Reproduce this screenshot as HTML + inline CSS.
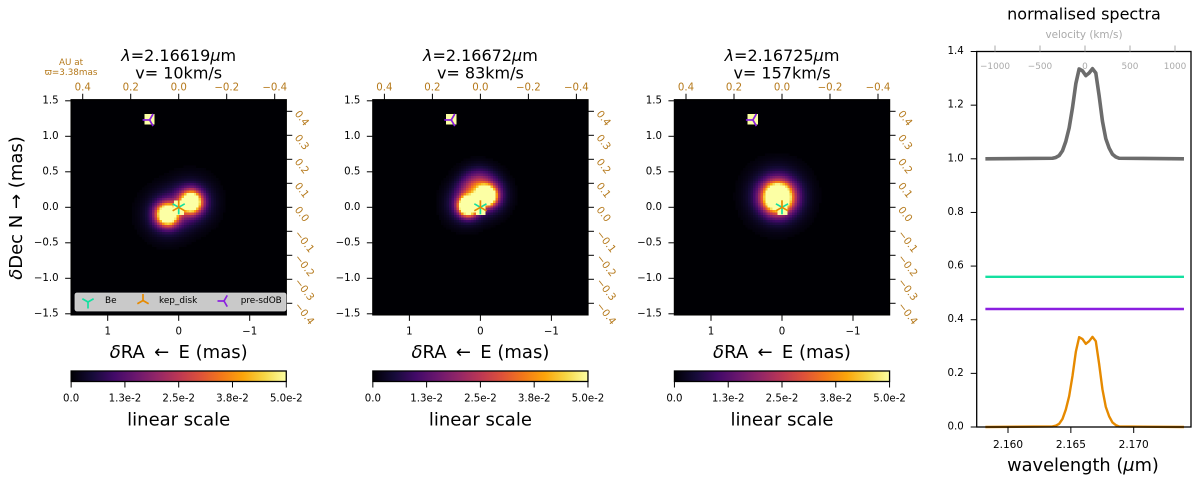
<!DOCTYPE html>
<html lang="en">
<head>
<meta charset="utf-8">
<title>Normalised spectra and image channels</title>
<style>
html,body{margin:0;padding:0;background:#fff;width:1200px;height:484px;overflow:hidden}
svg{display:block;font-family:"DejaVu Sans","Liberation Sans",sans-serif}
</style>
</head>
<body>
<svg id="fig" xmlns="http://www.w3.org/2000/svg" width="1200" height="484" viewBox="0 0 1200 484"></svg>
<script>
// ---- image panels ----
const panelTitles = ["2.16619", "2.16672", "2.16725"];
const panelVelocities = [" 10", " 83", " 157"];
// emission components per panel: x (mas, east positive), y (mas), peak, sigma (mas)
const blobsPanel1 = [[0.165, -0.095, 0.078, 0.098], [-0.169, 0.08, 0.078, 0.098], [0.165, -0.095, 0.013, 0.2], [-0.169, 0.08, 0.013, 0.2]];
const blobsPanel2 = [[0.18, 0.025, 0.1, 0.082], [-0.086, 0.166, 0.094, 0.08], [0.2, 0.05, 0.016, 0.17], [0.03, 0.27, 0.03, 0.16], [-0.13, 0.16, 0.012, 0.16]];
const blobsPanel3 = [[0.065, 0.145, 0.09, 0.13], [0.065, 0.16, 0.02, 0.23]];
const panelBlobs = [blobsPanel1, blobsPanel2, blobsPanel3];
// unresolved point sources: x, y, half width, half height (mas)
const pointSources = [[0.0, 0.0, 0.078, 0.1], [0.42, 1.24, 0.063, 0.06]];
const starPositions = [[0.0, 0.0], [0.41, 1.23]];
const xTicks = [1, 0, -1];
const yTicks = [1.5, 1.0, 0.5, 0.0, -0.5, -1.0, -1.5];
const auTopTicks = [0.4, 0.2, 0.0, -0.2, -0.4];
const auRightTicks = [0.4, 0.3, 0.2, 0.1, 0.0, -0.1, -0.2, -0.3, -0.4];
const colorbarTicks = [0, 0.0125, 0.025, 0.0375, 0.05];
const colorbarLabels = ["0.0", "1.3e-2", "2.5e-2", "3.8e-2", "5.0e-2"];
const infernoStops = ["#000004", "#160b39", "#420a68", "#6a176e", "#932667", "#bc3754", "#dd513a", "#f37819", "#fca50a", "#f6d746", "#fcffa4"];
const legendLabels = ["Be", "kep_disk", "pre-sdOB"];

// ---- spectra ----
const wavelengths = [2.1582, 2.16354, 2.163805, 2.16407, 2.164335, 2.1646, 2.164865, 2.16513, 2.165395, 2.16566, 2.165925, 2.16619, 2.166455, 2.16672, 2.166985, 2.16725, 2.167515, 2.16778, 2.168045, 2.16831, 2.168575, 2.16884, 2.174];
const fluxTotal = [1.0, 1.002, 1.005, 1.012, 1.03, 1.065, 1.115, 1.19, 1.28, 1.335, 1.328, 1.31, 1.32, 1.336, 1.32, 1.235, 1.14, 1.075, 1.04, 1.017, 1.007, 1.002, 1.0];
const fluxDisk = [0.0, 0.002, 0.005, 0.012, 0.03, 0.065, 0.115, 0.19, 0.28, 0.335, 0.328, 0.31, 0.32, 0.336, 0.32, 0.235, 0.14, 0.075, 0.04, 0.017, 0.007, 0.002, 0.0];
const fluxBe = [0.56, 0.56, 0.56, 0.56, 0.56, 0.56, 0.56, 0.56, 0.56, 0.56, 0.56, 0.56, 0.56, 0.56, 0.56, 0.56, 0.56, 0.56, 0.56, 0.56, 0.56, 0.56, 0.56];
const fluxSdOB = [0.44, 0.44, 0.44, 0.44, 0.44, 0.44, 0.44, 0.44, 0.44, 0.44, 0.44, 0.44, 0.44, 0.44, 0.44, 0.44, 0.44, 0.44, 0.44, 0.44, 0.44, 0.44, 0.44];
const specYTicks = [0, 0.2, 0.4, 0.6, 0.8, 1.0, 1.2, 1.4];
const specXTicks = [2.16, 2.165, 2.17];
const velocityTicks = [-1000, -500, 0, 500, 1000];

const fig = document.getElementById('fig');
const NS = 'http://www.w3.org/2000/svg';
const BROWN = '#b5791b';
const GREEN = '#14e0a0', ORANGE = '#e68a00', PURPLE = '#8a1fe0', GREY = '#6c6c6c';
const TICK_FONT = 10.2;

function mk(parent, tag, attrs, name, text) {
  const el = document.createElementNS(NS, tag);
  for (const k in attrs) el.setAttribute(k, attrs[k]);
  
  
  if (text !== undefined) el.textContent = text;
  parent.appendChild(el);
  return el;
}
function group(name) { return mk(fig, 'g', {}, name); }
function line(p, x1, y1, x2, y2, c, w, name) {
  return mk(p, 'line', {x1, y1, x2, y2, stroke: c, 'stroke-width': w}, name);
}
function label(p, x, y, s, size, fill, anchor, name, extra) {
  const a = Object.assign({x, y, 'font-size': size, fill, 'text-anchor': anchor, 'dominant-baseline': 'central'}, extra || {});
  return mk(p, 'text', a, name, s);
}
function fmt(v, d) { return (v < 0 ? '\u2212' : '') + Math.abs(v).toFixed(d); }
function hex(c) { return [1, 3, 5].map(i => parseInt(c.substr(i, 2), 16)); }
function inferno(t) {
  t = Math.max(0, Math.min(1, t));
  const n = infernoStops.length - 1, i = Math.min(n - 1, Math.floor(t * n)), f = t * n - i;
  const a = hex(infernoStops[i]), b = hex(infernoStops[i + 1]);
  return 'rgb(' + a.map((v, k) => Math.round(v + (b[k] - v) * f)).join(',') + ')';
}
// tri markers: angles of the three arms in degrees (svg coords)
function tri(p, cx, cy, r, angles, color, w, name) {
  const g = mk(p, 'g', {}, name);
  angles.forEach(a => {
    const t = a * Math.PI / 180;
    line(g, cx, cy, cx + r * Math.cos(t), cy + r * Math.sin(t), color, w, name + '-arm');
  });
  return g;
}
const TRI_DOWN = [90, 210, 330], TRI_UP = [270, 30, 150], TRI_LEFT = [180, 300, 60];

const VMAX = 0.05, LIM = 1.515, SCALE = 71, CELL = 0.0345;
const panelCenters = [178.7, 480.4, 782.0];
const CY = 207.3;

panelBlobs.forEach((blobs, idx) => {
  const cx = panelCenters[idx];
  const g = group('image-panel-' + (idx + 1));
  const X = v => cx - v * SCALE;
  const Y = v => CY - v * SCALE;
  const L = X(LIM), R = X(-LIM), T = Y(LIM), B = Y(-LIM);

  mk(g, 'rect', {x: L, y: T, width: R - L, height: B - T, fill: '#000004'}, 'image-background');

  const cells = mk(g, 'g', {'shape-rendering': 'crispEdges'}, 'emission-map');
  const px = CELL * SCALE;
  const N = Math.round(LIM / CELL);
  for (let i = -N; i < N; i++) {
    for (let j = -N; j < N; j++) {
      const mx = (i + 0.5) * CELL, my = (j + 0.5) * CELL;
      let v = 0;
      blobs.forEach(b => {
        const d2 = (mx - b[0]) ** 2 + (my - b[1]) ** 2;
        v += b[2] * Math.exp(-d2 / (2 * b[3] * b[3]));
      });
      pointSources.forEach(s => {
        if (Math.abs(mx - s[0]) < s[2] && Math.abs(my - s[1]) < s[3]) v = Math.max(v, VMAX);
      });
      if (v < 0.0006) continue;
      const cell = document.createElementNS(NS, 'rect');
      cell.setAttribute('x', X(mx) - px / 2);
      cell.setAttribute('y', Y(my) - px / 2);
      cell.setAttribute('width', px + 0.4);
      cell.setAttribute('height', px + 0.4);
      cell.setAttribute('fill', inferno(v / VMAX));
      
      
      cells.appendChild(cell);
    }
  }

  // stellar markers
  tri(g, X(starPositions[0][0]), Y(starPositions[0][1]), 7, TRI_DOWN, GREEN, 1.7, 'be-marker');
  tri(g, X(starPositions[0][0]), Y(starPositions[0][1]), 7, TRI_UP, ORANGE, 1.7, 'kep-disk-marker');
  tri(g, X(starPositions[1][0]), Y(starPositions[1][1]), 7, TRI_LEFT, PURPLE, 1.7, 'pre-sdob-marker');

  // spines
  mk(g, 'rect', {x: L, y: T, width: R - L, height: B - T, fill: 'none', stroke: '#000', 'stroke-width': 1.3}, 'image-frame');

  // bottom ticks
  xTicks.forEach(v => {
    line(g, X(v), B, X(v), B + 6, '#000', 1, 'x-tick');
    label(g, X(v), 332, fmt(v, 0), TICK_FONT, '#000', 'middle', 'x-tick-label');
  });
  // left ticks
  yTicks.forEach(v => {
    line(g, L - 6, Y(v), L, Y(v), '#000', 1, 'y-tick');
    label(g, L - 12.5, Y(v), fmt(v, 1), TICK_FONT, '#000', 'end', 'y-tick-label');
  });
  // top AU axis
  auTopTicks.forEach(v => {
    const x = X(v * 3.38);
    line(g, x, T - 6, x, T, '#000', 1, 'au-top-tick');
    label(g, x, 88, fmt(v, 1), TICK_FONT, BROWN, 'middle', 'au-top-tick-label');
  });
  // right AU axis
  auRightTicks.forEach(v => {
    const y = Y(v * 3.38);
    line(g, R, y, R + 6, y, '#000', 1, 'au-right-tick');
    const lx = R + 10, ly = y + 1;
    label(g, lx, ly, fmt(v, 1), TICK_FONT, BROWN, 'start', 'au-right-tick-label', {transform: 'rotate(52 ' + lx + ' ' + ly + ')'});
  });

  // titles
  const t1 = mk(g, 'text', {x: cx, y: 55, 'font-size': 16, fill: '#000', 'text-anchor': 'middle', 'dominant-baseline': 'central'}, 'panel-title-wavelength');
  mk(t1, 'tspan', {'font-style': 'italic'}, 'lambda-symbol', '\u03bb');
  mk(t1, 'tspan', {}, 'wavelength-value', '=' + panelTitles[idx]);
  mk(t1, 'tspan', {'font-style': 'italic'}, 'micro-symbol', '\u03bc');
  mk(t1, 'tspan', {}, 'wavelength-unit', 'm');
  const t2 = label(g, cx, 73, 'v=' + panelVelocities[idx] + 'km/s', 16, '#000', 'middle', 'panel-title-velocity');
  t2.style.whiteSpace = 'pre';

  // x label
  const xl = mk(g, 'text', {x: cx, y: 352, 'font-size': 18, fill: '#000', 'text-anchor': 'middle', 'dominant-baseline': 'central'}, 'x-axis-title');
  mk(xl, 'tspan', {'font-style': 'italic'}, 'delta-symbol', '\u03b4');
  mk(xl, 'tspan', {}, 'x-axis-title-text', 'RA\u2009 \u2190 \u2009E (mas)');

  // colorbar
  const cb = mk(g, 'g', {}, 'colorbar');
  const gid = 'cbgrad' + idx;
  const defs = mk(cb, 'defs', {}, 'colorbar-defs');
  const lg = mk(defs, 'linearGradient', {id: gid, x1: 0, x2: 1, y1: 0, y2: 0}, 'colorbar-gradient');
  infernoStops.forEach((c, i) => {
    mk(lg, 'stop', {offset: i / (infernoStops.length - 1), 'stop-color': c}, 'colorbar-stop');
  });
  const cbY = 371, cbH = 10.5;
  mk(cb, 'rect', {x: L, y: cbY, width: R - L, height: cbH, fill: 'url(#' + gid + ')', stroke: '#000', 'stroke-width': 1.3}, 'colorbar-ramp');
  colorbarTicks.forEach((v, i) => {
    const x = L + (R - L) * v / VMAX;
    line(cb, x, cbY + cbH, x, cbY + cbH + 6, '#000', 1, 'colorbar-tick');
    label(cb, x, 399, colorbarLabels[i], TICK_FONT, '#000', 'middle', 'colorbar-tick-label');
  });
  label(cb, cx, 420, 'linear scale', 18, '#000', 'middle', 'colorbar-title');

  if (idx === 0) {
    const yl = mk(g, 'text', {x: 16, y: 208, 'font-size': 18, fill: '#000', 'text-anchor': 'middle', 'dominant-baseline': 'central', transform: 'rotate(-90 16 208)'}, 'y-axis-title');
    mk(yl, 'tspan', {'font-style': 'italic'}, 'delta-symbol', '\u03b4');
    mk(yl, 'tspan', {}, 'y-axis-title-text', 'Dec N \u2192 (mas)');
    label(g, 71, 63, 'AU at', 8.8, BROWN, 'middle', 'au-axis-note-line-1');
    label(g, 71, 73, '\u03d6=3.38mas', 8.8, BROWN, 'middle', 'au-axis-note-line-2');

    const lgd = mk(g, 'g', {}, 'legend');
    mk(lgd, 'rect', {x: 75, y: 293, width: 211, height: 18, rx: 2, fill: '#c9c9c9', stroke: '#d4d4d4', 'stroke-width': 0.8}, 'legend-frame');
    const legendMarkerX = [88, 143, 224], legendTextX = [105, 159, 240.7];
    const legendColors = [GREEN, ORANGE, PURPLE], legendShapes = [TRI_DOWN, TRI_UP, TRI_LEFT], legendMarkerY = [302, 300.5, 301];
    legendLabels.forEach((s, i) => {
      tri(lgd, legendMarkerX[i], legendMarkerY[i], 6.5, legendShapes[i], legendColors[i], 1.7, 'legend-marker');
      label(lgd, legendTextX[i], 301, s, 8.9, '#000', 'start', 'legend-label');
    });
  }
});

// ---- spectra panel ----
(function () {
  const g = group('spectra-panel');
  const L = 976.7, R = 1191, T = 51.5, B = 427;
  const X = v => 1008 + (v - 2.16) * 12570;
  const Y = v => B - v * 268.2;
  const V = v => 1085 + v * 0.09;
  mk(g, 'rect', {x: L, y: T, width: R - L, height: B - T, fill: '#fff'}, 'spectra-background');

  const series = [
    [fluxDisk, ORANGE, 2.4, 'spectrum-kep-disk'],
    [fluxSdOB, PURPLE, 2.4, 'spectrum-pre-sdob'],
    [fluxBe, GREEN, 2.4, 'spectrum-be'],
    [fluxTotal, GREY, 3.6, 'spectrum-total']
  ];
  series.forEach(s => {
    const pts = wavelengths.map((w, i) => X(w).toFixed(2) + ',' + Y(s[0][i]).toFixed(2)).join(' ');
    mk(g, 'polyline', {points: pts, fill: 'none', stroke: s[1], 'stroke-width': s[2], 'stroke-linejoin': 'round'}, s[3]);
  });
  mk(g, 'rect', {x: L, y: T, width: R - L, height: B - T, fill: 'none', stroke: '#000', 'stroke-width': 1.3}, 'spectra-frame');

  specYTicks.forEach(v => {
    line(g, L - 6, Y(v), L, Y(v), '#000', 1, 'spectra-y-tick');
    label(g, L - 13, Y(v), v.toFixed(1), TICK_FONT, '#000', 'end', 'spectra-y-tick-label');
  });
  specXTicks.forEach(v => {
    line(g, X(v), B, X(v), B + 6, '#000', 1, 'spectra-x-tick');
    label(g, X(v), 445, v.toFixed(3), 10.5, '#000', 'middle', 'spectra-x-tick-label');
  });
  velocityTicks.forEach(v => {
    line(g, V(v), T - 6, V(v), T, '#aaaaaa', 1, 'velocity-tick');
    label(g, V(v), 67, (v < 0 ? '\u2212' : '') + Math.abs(v), 8.9, '#aaaaaa', 'middle', 'velocity-tick-label');
  });
  label(g, 1084, 35, 'velocity (km/s)', 10.4, '#aaaaaa', 'middle', 'velocity-axis-title');
  label(g, 1084, 14, 'normalised spectra', 16, '#000', 'middle', 'spectra-title');
  const xl = mk(g, 'text', {x: 1083, y: 465, 'font-size': 17.8, fill: '#000', 'text-anchor': 'middle', 'dominant-baseline': 'central'}, 'spectra-x-axis-title');
  mk(xl, 'tspan', {}, 'spectra-x-axis-title-text', 'wavelength (');
  mk(xl, 'tspan', {'font-style': 'italic'}, 'micro-symbol', '\u03bc');
  mk(xl, 'tspan', {}, 'spectra-x-axis-title-unit', 'm)');
})();
</script>
</body>
</html>
